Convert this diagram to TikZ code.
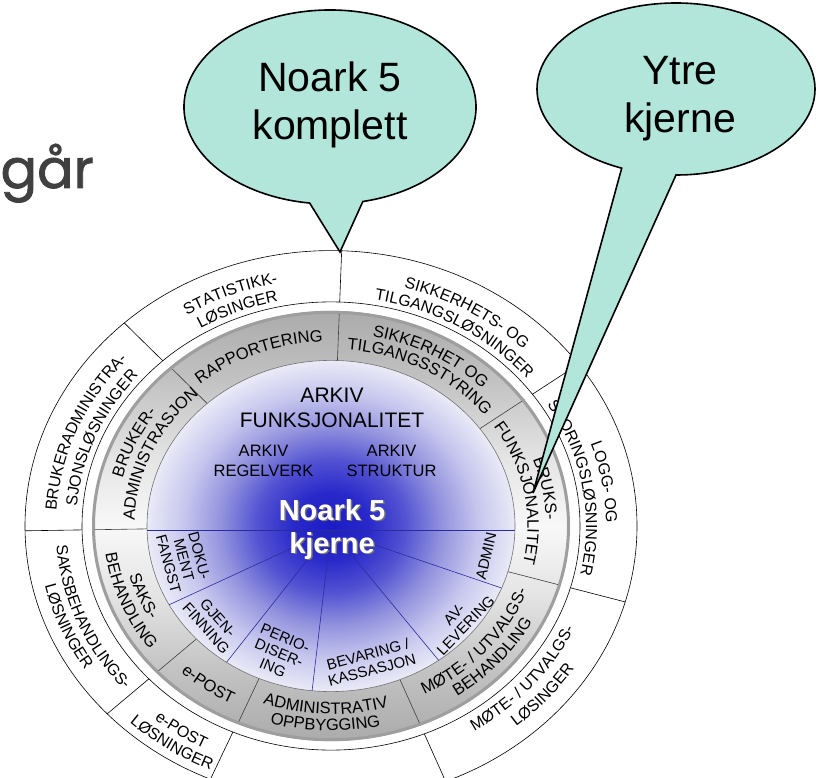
\documentclass[tikz,border=0pt]{standalone}
\usepackage{fontspec}
\setmainfont{Liberation Sans}
\newfontfamily\handfont{Poppins}[FakeBold=1.6]
\usetikzlibrary{decorations.text,calc}

\definecolor{bubble}{HTML}{B3E6DA}
\definecolor{diskA}{HTML}{1C1CC6}
\definecolor{diskB}{HTML}{2828CA}
\definecolor{diskC}{HTML}{5252D2}
\definecolor{diskD}{HTML}{9292DE}
\definecolor{diskE}{HTML}{C6C6EE}
\definecolor{diskF}{HTML}{EAEAF7}
\definecolor{ringDark}{HTML}{ABABAB}
\definecolor{ringMid}{HTML}{C2C2C2}
\definecolor{ringLight}{HTML}{E4E4E4}
\definecolor{ringWhite}{HTML}{F8F8F8}
\definecolor{rayblue}{HTML}{2B2BA0}
\definecolor{slate}{HTML}{404040}

% blue core: dark centre fading to pale lavender at the rim
\pgfdeclareradialshading{coredisk}{\pgfpoint{0bp}{0bp}}{color(0bp)=(diskA); color(5bp)=(diskB); color(10bp)=(diskC); color(15bp)=(diskD); color(20bp)=(diskE); color(25bp)=(diskF); color(50bp)=(diskF)}
% grey band: darker at top and bottom, light at the sides
\pgfdeclareverticalshading{ringband}{100bp}{color(0bp)=(ringDark); color(25bp)=(ringDark); color(33bp)=(ringMid); color(42bp)=(ringLight); color(50bp)=(ringWhite); color(58bp)=(ringLight); color(67bp)=(ringMid); color(75bp)=(ringDark); color(100bp)=(ringDark)}

\tikzset{
  thinrule/.style={draw=black, line width=0.6pt},
  ringrule/.style={draw=black!75, line width=0.6pt},
  raystyle/.style={draw=rayblue, line width=0.6pt},
  callout/.style={fill=bubble, draw=black, line width=1.6pt},
  bubbletext/.style={font=\fontsize{41}{48}\selectfont, anchor=base, inner sep=0pt},
  coretitle/.style={font=\fontsize{21}{25}\selectfont, anchor=base, inner sep=0pt},
  corelabel/.style={font=\fontsize{16.5}{19}\selectfont, anchor=base, inner sep=0pt},
  sectorlabel/.style={font=\fontsize{15}{16}\selectfont, align=center, inner sep=0pt},
  kerntext/.style={font=\bfseries\fontsize{29}{33}\selectfont, anchor=base, inner sep=0pt},
}

% Text bent along an elliptic arc (x radius r, y radius 0.9r) centred on angle #1.
% The arc is spread 70 degrees each side; the shift of the arc-length midpoint
% on the ellipse is compensated so the text sits centred on #1.
\newcommand{\ringcw}[4]{%
  \pgfmathsetmacro\ringmid{#1-2.4*sin(2*#1)}%
  \path[decorate, decoration={text along path, text align=center,
      text={|\fontsize{#3}{#3}\selectfont|#4}}]
    ({\ringmid+70}:{#2} and {0.9*#2}) arc[start angle={\ringmid+70}, end angle={\ringmid-70},
      x radius={#2}, y radius={0.9*#2}];}
\newcommand{\ringccw}[4]{%
  \pgfmathsetmacro\ringmid{#1-2.4*sin(2*#1)}%
  \path[decorate, decoration={text along path, text align=center,
      text={|\fontsize{#3}{#3}\selectfont|#4}}]
    ({\ringmid-70}:{#2} and {0.9*#2}) arc[start angle={\ringmid-70}, end angle={\ringmid+70},
      x radius={#2}, y radius={0.9*#2}];}

\begin{document}
\begin{tikzpicture}[x=1pt,y=1pt]
\useasboundingbox (0,0) rectangle (816,777);
\clip (0,0) rectangle (816,777);

\coordinate (O) at (331,251);
\coordinate (H) at (331,247);

\begin{scope}[shift={(O)}]
  % outer ring of solutions
  \draw[thinrule, fill=white] (0,0) ellipse [x radius=306, y radius=275.4];
  \draw[thinrule] (0,0) ellipse [x radius=249, y radius=224.1];
  \foreach \a in {88,132.5,181,223,246.8,292,344,36}
    \draw[thinrule] (\a:249 and 224.1) -- (\a:306 and 275.4);

  % grey functional ring
  \shade[shading=ringband] (0,0) ellipse [x radius=239, y radius=215.1];
  \foreach \a in {88,132.3,181,223,247,292,344,36}
    \draw[ringrule] (\a:184 and 165.6) -- (\a:239 and 215.1);
  \draw[draw=black!38, line width=3pt] (0,0) ellipse [x radius=237.5, y radius=213.7];

  % blue core
  \shade[shading=coredisk] (0,0) ellipse [x radius=184, y radius=165.6];
  \draw[draw=black!55, line width=0.6pt] (0,0) ellipse [x radius=184, y radius=165.6];
  \draw[raystyle] (181.4:184 and 165.6) -- (358.6:184 and 165.6);
  \foreach \a in {208.4,235.4,264.1,305.8,338}
    \draw[raystyle] (0,-4) -- (\a:184 and 165.6);

  % labels of the grey ring
  \ringcw{111}{205}{16.5}{RAPPORTERING}
  \ringcw{62}{215}{16.5}{SIKKERHET OG}
  \ringcw{62}{196.5}{16.5}{TILGANGSSTYRING}
  \ringcw{155}{215}{16.5}{BRUKER-}
  \ringcw{155}{196.5}{16.5}{ADMINISTRASJON}
  \ringcw{11}{215}{16.5}{BRUKS-}
  \ringcw{11}{196.5}{16.5}{FUNKSJONALITET}
  \ringccw{202.5}{209}{16.5}{SAKS-}
  \ringccw{202.5}{227.5}{16.5}{BEHANDLING}
  \ringccw{235}{221}{16.5}{e-POST}
  \ringccw{268.5}{209}{16.5}{ADMINISTRATIV}
  \ringccw{268.5}{227.5}{16.5}{OPPBYGGING}
  \ringccw{318}{209}{16.5}{MØTE- / UTVALGS-}
  \ringccw{318}{227.5}{16.5}{BEHANDLING}

  % labels of the outer ring
  \ringcw{111.5}{275}{16}{STATISTIKK-}
  \ringcw{111.5}{255}{16}{LØSINGER}
  \ringcw{60}{275}{16}{SIKKERHETS- OG}
  \ringcw{60}{255}{16}{TILGANGSLØSNINGER}
  \ringcw{157}{275}{16}{BRUKERADMINISTRA-}
  \ringcw{157}{255}{16}{SJONSLØSNINGER}
  \ringcw{10}{275}{16}{LOGG- OG}
  \ringcw{10}{255}{16}{SPORINGSLØSNINGER}
  \ringccw{203}{275.5}{16}{SAKSBEHANDLINGS-}
  \ringccw{203}{293.5}{16}{LØSNINGER}
  \ringccw{236.5}{278}{16}{e-POST}
  \ringccw{236.5}{297}{16}{LØSNINGER}
  \ringccw{318.5}{269}{16}{MØTE- / UTVALGS-}
  \ringccw{318.5}{290}{16}{LØSINGER}
\end{scope}

% core texts
\node[coretitle] (arkiv) at (332,374) {ARKIV};
\node[coretitle] (funk) at (332,349) {FUNKSJONALITET};
\node[corelabel] (regA) at (263.5,320) {ARKIV};
\node[corelabel] (regB) at (263.5,300) {REGELVERK};
\node[corelabel] (strA) at (391.5,320) {ARKIV};
\node[corelabel] (strB) at (391.5,300) {STRUKTUR};
\node[kerntext, text=black!55] (kshadowA) at (333.5,255.5) {Noark 5};
\node[kerntext, text=black!55] (kshadowB) at (333.5,222.5) {kjerne};
\node[kerntext, text=white] (kernA) at (332,257) {Noark 5};
\node[kerntext, text=white] (kernB) at (332,224) {kjerne};

% sector texts of the lower core
\node[sectorlabel, rotate=-75] (dok) at (184,217) {DOKU-\\MENT\\FANGST};
\node[sectorlabel, rotate=-48] (gjen) at (212,154) {GJEN-\\FINNING};
\node[sectorlabel, rotate=-23] (perio) at (279,124) {PERIO-\\DISER-\\ING};
\node[sectorlabel, rotate=15] (bev) at (370,115) {BEVARING /\\KASSASJON};
\node[sectorlabel, rotate=46] (avl) at (460,157) {AV-\\LEVERING};
\node[sectorlabel, rotate=77] (adm) at (486,221) {ADMIN};

% speech bubbles
\coordinate (C1) at (330,670);
\coordinate (T1) at (340,525);
\draw[callout] (T1) -- ($(C1)+(283:146 and 97)$)
  arc[start angle=283, end angle=622, x radius=146, y radius=97] -- cycle;
\node[bubbletext] (komA) at (330,685) {Noark 5};
\node[bubbletext] (komB) at (330,637) {komplett};

\coordinate (C2) at (676,688);
\coordinate (T2) at (533,284);
\draw[callout] (T2) -- ($(C2)+(270:139 and 86)$)
  arc[start angle=270, end angle=607, x radius=139, y radius=86] -- cycle;
\node[bubbletext] (ytreA) at (680,692) {Ytre};
\node[bubbletext] (ytreB) at (680,644) {kjerne};

% heading fragment at the left edge
\node[font=\handfont\fontsize{54}{60}\selectfont, text=slate, anchor=base east, inner sep=0pt] (gaar) at (94,589) {går};
\end{tikzpicture}
\end{document}
